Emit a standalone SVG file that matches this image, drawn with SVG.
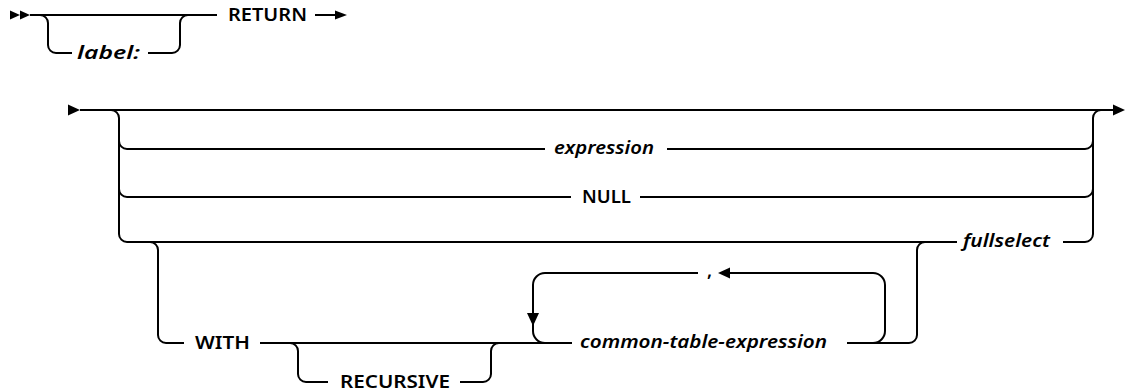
<svg xmlns="http://www.w3.org/2000/svg" width="1126" height="391" viewBox="0 0 1126 391">
<style>
.ln{fill:none;stroke:#000;stroke-width:2}
.ah{fill:#000}
text{font-family:"Noto Sans","Open Sans",sans-serif;font-size:18px;fill:#000}
.kw{font-weight:600}
.var{font-style:italic;font-weight:600}
</style>
<rect width="1126" height="391" fill="#fff"/>
<g id="connectors">
<path class="ln" d="M30 15 H217"/>
<path class="ln" d="M40 15 A8 8 0 0 1 48 23 V45 A8 8 0 0 0 56 53 H72"/>
<path class="ln" d="M148 53 H172 A8 8 0 0 0 180 45 V23 A8 8 0 0 1 188 15"/>
<path class="ln" d="M315 15 H338"/>
<path class="ln" d="M80 110 H1113"/>
<path class="ln" d="M111 110 A8 8 0 0 1 119 118 V234 A8 8 0 0 0 127 242 H957"/>
<path class="ln" d="M119 141 A8 8 0 0 0 127 149 H545"/>
<path class="ln" d="M667 149 H1085 A8 8 0 0 0 1093 141"/>
<path class="ln" d="M119 189 A8 8 0 0 0 127 197 H571"/>
<path class="ln" d="M640 197 H1085 A8 8 0 0 0 1093 189"/>
<path class="ln" d="M1063 242 H1085 A8 8 0 0 0 1093 234 V118 A8 8 0 0 1 1101 110"/>
<path class="ln" d="M150 242 A8 8 0 0 1 158 250 V335 A8 8 0 0 0 166 343 H184"/>
<path class="ln" d="M260 343 H572"/>
<path class="ln" d="M290 343 A8 8 0 0 1 298 351 V374 A8 8 0 0 0 306 382 H328"/>
<path class="ln" d="M460 382 H483 A8 8 0 0 0 491 374 V351 A8 8 0 0 1 499 343"/>
<path class="ln" d="M698 273 H545 A12 12 0 0 0 533 285 V331 A12 12 0 0 0 545 343"/>
<path class="ln" d="M847 343 H873 A12 12 0 0 0 885 331 V285 A12 12 0 0 0 873 273 H728"/>
<path class="ln" d="M847 343 H909 A8 8 0 0 0 917 335 V250 A8 8 0 0 1 925 242"/>
<polygon class="ah" points="10,10.5 20,15 10,19.5"/>
<polygon class="ah" points="20,10.5 30,15 20,19.5"/>
<polygon class="ah" points="335,10.5 347,15 335,19.5"/>
<polygon class="ah" points="68,104.5 80,110 68,115.5"/>
<polygon class="ah" points="1113,104.5 1125,110 1113,115.5"/>
<polygon class="ah" points="730,267.5 718,273 730,278.5"/>
<polygon class="ah" points="527,313 539,313 533,326"/>
</g>
<g id="label"><text class="var" x="77" y="59" textLength="63" lengthAdjust="spacingAndGlyphs">label:</text></g>
<g id="return"><text class="kw" x="228" y="21" textLength="79" lengthAdjust="spacingAndGlyphs">RETURN</text></g>
<g id="expression"><text class="var" x="554" y="154" textLength="100" lengthAdjust="spacingAndGlyphs">expression</text></g>
<g id="null"><text class="kw" x="582" y="203" textLength="49" lengthAdjust="spacingAndGlyphs">NULL</text></g>
<g id="fullselect"><text class="var" x="963" y="247" textLength="87" lengthAdjust="spacingAndGlyphs">fullselect</text></g>
<g id="with"><text class="kw" x="195" y="349" textLength="55" lengthAdjust="spacingAndGlyphs">WITH</text></g>
<g id="recursive"><text class="kw" x="340" y="388" textLength="110" lengthAdjust="spacingAndGlyphs">RECURSIVE</text></g>
<g id="cte"><text class="var" x="580" y="348" textLength="247" lengthAdjust="spacingAndGlyphs">common-table-expression</text></g>
<g id="comma"><text class="kw" x="707" y="277">,</text></g>
</svg>
